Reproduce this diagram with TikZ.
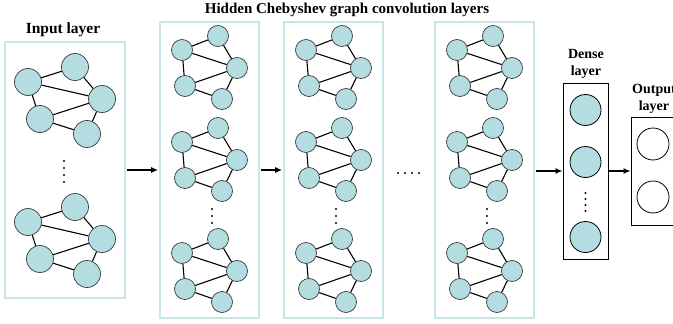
\documentclass[tikz,border=0pt]{standalone}
\usepackage{fontspec}
\setmainfont{Liberation Serif}
\usetikzlibrary{arrows.meta}
\definecolor{nodefill}{RGB}{180,221,225}
\definecolor{boxcol}{RGB}{200,230,232}
\definecolor{ringcol}{RGB}{60,60,60}
\tikzset{
  hn/.style={circle, draw=ringcol, fill=nodefill, line width=0.7pt, inner sep=0pt, minimum size=21pt},
  inn/.style={circle, draw=ringcol, fill=nodefill, line width=0.7pt, inner sep=0pt, minimum size=27pt},
  dn/.style={circle, draw=black, fill=nodefill, line width=0.8pt, inner sep=0pt, minimum size=31pt},
  on/.style={circle, draw=black, fill=white, line width=0.8pt, inner sep=0pt, minimum size=32pt},
  edge/.style={line width=1.1pt, black},
  lbox/.style={draw=boxcol, line width=1.6pt, inner sep=0pt},
  kbox/.style={draw=black, line width=0.8pt, inner sep=0pt},
  arr/.style={line width=1.9pt, -{Latex[length=7pt,width=6pt]}},
  dotc/.style={fill=black},
  ttl/.style={font=\fontsize{15}{17}\selectfont\bfseries, inner sep=0pt},
  lbl/.style={font=\fontsize{14}{17.5}\selectfont\bfseries, inner sep=0pt, align=center}
}
\newcommand\hgraph[3]{%
  \begin{scope}[shift={(#2,#3)}]
    \node[hn] (#1t) at (0,0) {};
    \node[hn] (#1l) at (-36,14) {};
    \node[hn] (#1r) at (19,32) {};
    \node[hn] (#1bl) at (-33,50) {};
    \node[hn] (#1br) at (4,63) {};
    \draw[edge] (#1l)--(#1t) (#1t)--(#1r) (#1l)--(#1r) (#1l)--(#1bl)
      (#1r)--(#1bl) (#1bl)--(#1br) (#1r)--(#1br);
  \end{scope}}
\newcommand\igraph[3]{%
  \begin{scope}[shift={(#2,#3)}]
    \node[inn] (#1t) at (0,0) {};
    \node[inn] (#1l) at (-47,15) {};
    \node[inn] (#1r) at (27,32) {};
    \node[inn] (#1bl) at (-35,52) {};
    \node[inn] (#1br) at (12,67) {};
    \draw[edge] (#1l)--(#1t) (#1t)--(#1r) (#1l)--(#1r) (#1l)--(#1bl)
      (#1r)--(#1bl) (#1bl)--(#1br) (#1r)--(#1br);
  \end{scope}}
\begin{document}
\begin{tikzpicture}[x=1pt,y=-1pt]
  \useasboundingbox (0,0) rectangle (673,324);
  \clip (0,0) rectangle (673,324);
  % titles
  \node[ttl] (title) at (347,10) {Hidden Chebyshev graph convolution layers};
  \node[ttl, font=\fontsize{15.5}{17}\selectfont\bfseries] (intitle) at (63,30) {Input layer};
  \node[lbl] (dtitle) at (586,64) {Dense\\layer};
  \node[lbl] (otitle) at (654,99) {Output\\layer};
  % boxes
  \node[lbox, minimum width=120pt, minimum height=256pt] (inbox) at (65,170) {};
  \node[lbox, minimum width=99pt, minimum height=296pt] (hb1) at (209.5,170) {};
  \node[lbox, minimum width=99pt, minimum height=296pt] (hb2) at (333.5,170) {};
  \node[lbox, minimum width=99pt, minimum height=296pt] (hb3) at (484.5,170) {};
  \node[kbox, minimum width=45pt, minimum height=176pt] (dbox) at (585.5,171) {};
  \node[kbox, minimum width=60pt, minimum height=108pt] (obox) at (661,171) {};
  % input graphs
  \igraph{ia}{75}{67}
  \igraph{ib}{75}{207}
  \foreach \yy in {161,168,175,182} \fill[dotc] (64,\yy) circle (1.2pt);
  % hidden graphs
  \foreach \bx/\bn in {160/1,284/2,435/3}{
    \hgraph{h\bn a}{\bx+58}{36}
    \hgraph{h\bn b}{\bx+58}{128}
    \hgraph{h\bn c}{\bx+58}{239}
    \foreach \yy in {209,216,223} \fill[dotc] (\bx+52,\yy) circle (1.2pt);
  }
  \foreach \xx in {398,405,412,419} \fill[dotc] (\xx,173) circle (1.2pt);
  % dense
  \node[dn] (d1) at (585.5,110) {};
  \node[dn] (d2) at (585.5,162) {};
  \node[dn] (d3) at (585.5,237) {};
  \foreach \yy in {193,199,205,211} \fill[dotc] (585.5,\yy) circle (1.1pt);
  % output
  \node[on] (o1) at (653,144) {};
  \node[on] (o2) at (653,197) {};
  % arrows
  \draw[arr] ([xshift=1pt]inbox.east) -- ([xshift=-1pt]inbox.east -| hb1.west);
  \draw[arr] ([xshift=1pt]hb1.east) -- ([xshift=-1pt]hb1.east -| hb2.west);
  \draw[arr] ([xshift=1pt,yshift=-1pt]hb3.east) -- ([yshift=-1pt]hb3.east -| dbox.west);
  \draw[arr] (dbox.east) -- (dbox.east -| obox.west);
\end{tikzpicture}
\end{document}
